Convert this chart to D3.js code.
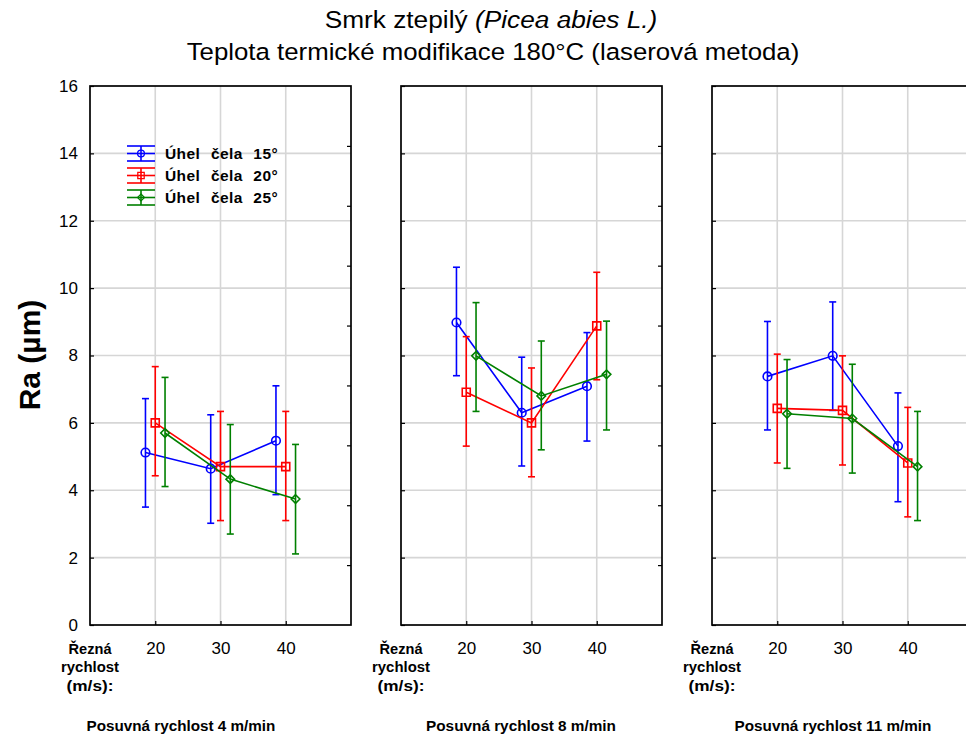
<!DOCTYPE html>
<html>
<head>
<meta charset="utf-8">
<script src="https://cdn.jsdelivr.net/npm/d3@7"></script>
<style>
  html, body { margin: 0; padding: 0; background: #fff; }
  svg { display: block; font-family: "Liberation Sans", Arial, sans-serif; }
</style>
</head>
<body>
<svg id="chart" width="966" height="740"></svg>
<script>
// ---------------- DATA ----------------
const speeds = [20, 30, 40];                      // Řezná rychlost (m/s)
const yTicks = [0, 2, 4, 6, 8, 10, 12, 14, 16];
const panelTitles = ["Posuvná rychlost 4 m/min", "Posuvná rychlost 8 m/min", "Posuvná rychlost 11 m/min"];
const seriesNames = ["Úhel čela 15°", "Úhel čela 20°", "Úhel čela 25°"];
const seriesColors = ["#0000ff", "#ff0000", "#008000"];

// per panel (feed 4, 8, 11 m/min) x per speed (20, 30, 40)
const mean15 = [[5.12, 4.64, 5.47], [8.98, 6.30, 7.09], [7.38, 7.99, 5.31]];
const low15  = [[3.50, 3.02, 3.87], [7.40, 4.72, 5.46], [5.79, 6.37, 3.66]];
const high15 = [[6.72, 6.24, 7.10], [10.62, 7.95, 8.68], [9.01, 9.59, 6.89]];

const mean20 = [[6.00, 4.70, 4.70], [6.91, 6.00, 8.88], [6.43, 6.37, 4.81]];
const low20  = [[4.43, 3.10, 3.10], [5.31, 4.40, 7.28], [4.81, 4.75, 3.21]];
const high20 = [[7.67, 6.34, 6.34], [8.56, 7.63, 10.47], [8.04, 7.99, 6.46]];

const mean25 = [[5.70, 4.33, 3.74], [7.99, 6.80, 7.44], [6.27, 6.13, 4.70]];
const low25  = [[4.11, 2.70, 2.11], [6.34, 5.20, 5.79], [4.65, 4.51, 3.10]];
const high25 = [[7.35, 5.95, 5.36], [9.57, 8.43, 9.02], [7.88, 7.74, 6.34]];

const seriesMeans = [mean15, mean20, mean25];
const seriesLows  = [low15, low20, low25];
const seriesHighs = [high15, high20, high25];

// ---------------- LAYOUT ----------------
const FONT = '"Liberation Sans", Arial, sans-serif';
const panelLeft = [90, 401, 712];
const panelW = 261;
const plotTop = 86, plotBottom = 625;
const seriesOffset = [-1.5, 0, 1.5];             // dodge in x units
const panelTitleX = [91, 120, 121];              // centre offset from panel left
const panelTitleW = [189, 190, 197];

const svg = d3.select("#chart");

function squeeze(sel, target, cx) {
  const w = sel.node().getComputedTextLength();
  if (w > 0) {
    const k = target / w;
    sel.attr("transform", `translate(${cx},0) scale(${k},1) translate(${-cx},0)`);
  }
}

// Title
const t1 = svg.append("text").attr("x", 491).attr("y", 28).attr("text-anchor", "middle")
  .attr("font-size", 23.5).attr("fill", "#000");
t1.append("tspan").text("Smrk ztepilý ");
t1.append("tspan").attr("font-style", "italic").text("(Picea abies L.)");
squeeze(t1, 333, 491);
const t2 = svg.append("text").attr("x", 493).attr("y", 60).attr("text-anchor", "middle")
  .attr("font-size", 23.5).attr("fill", "#000")
  .text("Teplota termické modifikace 180°C (laserová metoda)");
squeeze(t2, 613, 493);

// Y label
svg.append("text")
  .attr("transform", `translate(40,355) rotate(-90)`)
  .attr("text-anchor", "middle")
  .attr("font-size", 30).attr("font-weight", "bold").attr("fill", "#000")
  .text("Ra (µm)");

const y = d3.scaleLinear().domain([0, 16]).range([plotBottom, plotTop]);

panelTitles.forEach((title, p) => {
  const g = svg.append("g").attr("transform", `translate(${panelLeft[p]},0)`);
  const x = d3.scaleLinear().domain([10, 50]).range([0, panelW]);

  // grid
  g.append("g").selectAll("line.h")
    .data(yTicks.filter(v => v > 0 && v < 16)).join("line")
    .attr("x1", 0).attr("x2", panelW)
    .attr("y1", d => y(d)).attr("y2", d => y(d))
    .attr("stroke", "#d6d6d6").attr("stroke-width", 1.6);
  g.append("g").selectAll("line.v")
    .data(speeds).join("line")
    .attr("x1", d => x(d)).attr("x2", d => x(d))
    .attr("y1", plotTop).attr("y2", plotBottom)
    .attr("stroke", "#d6d6d6").attr("stroke-width", 1.6);

  // left axis (ticks inward); labels only in first panel
  const ya = d3.axisLeft(y).tickValues(yTicks).tickSizeInner(-4).tickSizeOuter(0).tickPadding(12)
    .tickFormat(p === 0 ? d3.format("d") : () => "");
  const yg = g.append("g").call(ya);
  yg.select(".domain").remove();
  yg.selectAll("line").attr("stroke", "#000").attr("stroke-width", 1.2);
  yg.selectAll("text").attr("font-size", 17).attr("font-family", FONT).attr("fill", "#000");

  // right inner ticks (9 divisions)
  const rScale = d3.scaleLinear().domain([0, 9]).range([plotBottom, plotTop]);
  const ra = d3.axisRight(rScale).tickValues(d3.range(1, 9)).tickSizeInner(-4).tickSizeOuter(0).tickFormat(() => "");
  const rg = g.append("g").attr("transform", `translate(${panelW},0)`).call(ra);
  rg.select(".domain").remove();
  rg.selectAll("line").attr("stroke", "#000").attr("stroke-width", 1.2);

  // bottom axis
  const xa = d3.axisBottom(x).tickValues(speeds).tickSizeInner(-4).tickSizeOuter(0).tickPadding(17)
    .tickFormat(d3.format("d"));
  const xg = g.append("g").attr("transform", `translate(0,${plotBottom})`).call(xa);
  xg.select(".domain").remove();
  xg.selectAll("line").attr("stroke", "#000").attr("stroke-width", 1.2);
  xg.selectAll("text").attr("font-size", 17).attr("font-family", FONT).attr("fill", "#000");

  // frame
  g.append("rect").attr("x", 0).attr("y", plotTop).attr("width", panelW).attr("height", plotBottom - plotTop)
    .attr("fill", "none").attr("stroke", "#000").attr("stroke-width", 1.7);

  // series
  seriesNames.forEach((name, s) => {
    const col = seriesColors[s];
    const pts = speeds.map((v, i) => ({
      x: x(v + seriesOffset[s]),
      m: y(seriesMeans[s][p][i]),
      lo: y(seriesLows[s][p][i]),
      hi: y(seriesHighs[s][p][i])
    }));
    const sg = g.append("g");
    sg.append("path").datum(pts)
      .attr("d", d3.line().x(d => d.x).y(d => d.m))
      .attr("fill", "none").attr("stroke", col).attr("stroke-width", 1.6);
    const eb = sg.selectAll("g.eb").data(pts).join("g");
    eb.append("line").attr("x1", d => d.x).attr("x2", d => d.x).attr("y1", d => d.lo).attr("y2", d => d.hi)
      .attr("stroke", col).attr("stroke-width", 1.6);
    eb.append("line").attr("x1", d => d.x - 3.5).attr("x2", d => d.x + 3.5).attr("y1", d => d.lo).attr("y2", d => d.lo)
      .attr("stroke", col).attr("stroke-width", 1.6);
    eb.append("line").attr("x1", d => d.x - 3.5).attr("x2", d => d.x + 3.5).attr("y1", d => d.hi).attr("y2", d => d.hi)
      .attr("stroke", col).attr("stroke-width", 1.6);
    drawMarkers(sg, pts, s, col);
  });

  // bottom labels
  const lx = 0;
  ["Řezná", "rychlost", "(m/s):"].forEach((txt, k) => {
    const tt = g.append("text").attr("x", lx).attr("y", 654 + k * 18.5).attr("text-anchor", "middle")
      .attr("font-size", 14).attr("font-weight", "bold").attr("fill", "#000").text(txt);
    squeeze(tt, [43, 58, 47][k], lx);
  });
  const pt = g.append("text").attr("x", panelTitleX[p]).attr("y", 731).attr("text-anchor", "middle")
    .attr("font-size", 14).attr("font-weight", "bold").attr("fill", "#000").text(title);
  squeeze(pt, panelTitleW[p], panelTitleX[p]);

  if (p === 0) drawLegend(g);
});

function markerPath(s) {
  if (s === 0) return d3.symbol().type(d3.symbolCircle).size(Math.PI * 4.3 * 4.3)();
  if (s === 1) return d3.symbol().type(d3.symbolSquare).size(64)();
  const r = 4.3;
  return `M0,${-r}L${r},0L0,${r}L${-r},0Z`;
}

function drawMarkers(sg, pts, s, col) {
  sg.selectAll("path.mk").data(pts).join("path")
    .attr("class", "mk")
    .attr("transform", d => `translate(${d.x},${d.m})`)
    .attr("d", markerPath(s))
    .attr("fill", "none").attr("stroke", col).attr("stroke-width", 1.6);
}

function drawLegend(g) {
  const lx0 = 37, lx1 = 65, cx = 51;
  const rows = [153.5, 175.5, 197.5];
  seriesNames.forEach((name, s) => {
    const col = seriesColors[s];
    const cy = rows[s];
    const lg = g.append("g");
    [-7.5, 0, 7.5].forEach(dy => {
      lg.append("line").attr("x1", lx0).attr("x2", lx1).attr("y1", cy + dy).attr("y2", cy + dy)
        .attr("stroke", col).attr("stroke-width", 1.6);
    });
    lg.append("line").attr("x1", cx).attr("x2", cx).attr("y1", cy - 7.5).attr("y2", cy + 7.5)
      .attr("stroke", col).attr("stroke-width", 1.6);
    lg.append("path").attr("d", markerPath(s))
      .attr("transform", `translate(${cx},${cy}) scale(0.8)`)
      .attr("fill", "none").attr("stroke", col).attr("stroke-width", 1.6);
    lg.append("text").attr("x", 75).attr("y", cy + 5.5).attr("font-size", 15.5)
      .attr("font-weight", "bold").attr("fill", "#000")
      .attr("letter-spacing", 0.4).attr("word-spacing", 6).text(name);
  });
}
</script>
</body>
</html>
